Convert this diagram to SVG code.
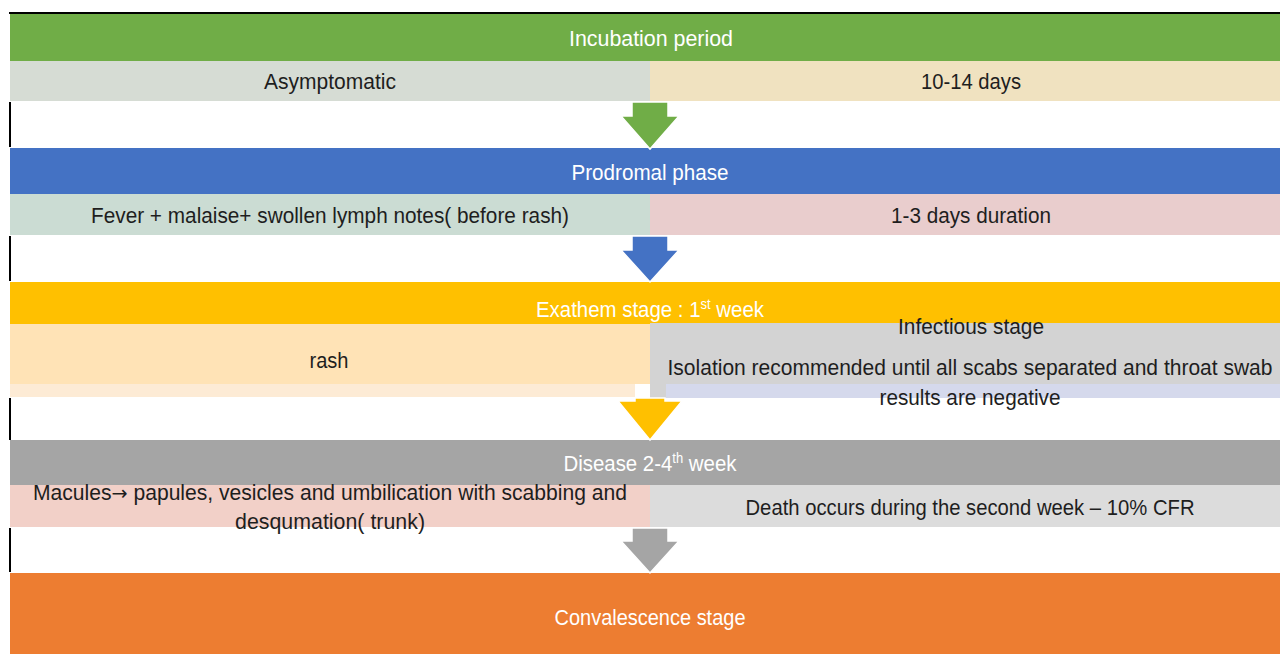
<svg xmlns="http://www.w3.org/2000/svg" width="1280" height="654" viewBox="0 0 1280 654">
<style>
  text { font-family: "Liberation Sans", Arial, sans-serif; font-size: 22px; text-anchor: middle; }
  .w { fill: #ffffff; }
  .d { fill: #1e1e1e; }
  .arrow { stroke: #ffffff; stroke-width: 1.5; }
  .edge { stroke: #000000; stroke-width: 2; }
</style>
<rect x="0" y="0" width="1280" height="654" fill="#ffffff"/>
<line class="edge" x1="9" y1="13" x2="1280" y2="13"/>
<g id="edges-left">
  <line class="edge" x1="10" y1="102" x2="10" y2="147"/>
  <line class="edge" x1="10" y1="236" x2="10" y2="281"/>
  <line class="edge" x1="10" y1="398" x2="10" y2="440"/>
  <line class="edge" x1="10" y1="528" x2="10" y2="572"/>
</g>

<g id="incubation">
  <rect x="10" y="14" width="1270" height="47" fill="#70AD47"/>
  <text class="w" x="651" y="46" textLength="164" lengthAdjust="spacingAndGlyphs">Incubation period</text>
  <rect x="10" y="61" width="640" height="40" fill="#D6DCD4"/>
  <rect x="650" y="61" width="630" height="40" fill="#F0E2C0"/>
  <text class="d" x="330" y="89" textLength="132" lengthAdjust="spacingAndGlyphs">Asymptomatic</text>
  <text class="d" x="971" y="89" textLength="100" lengthAdjust="spacingAndGlyphs">10-14 days</text>
</g>

<g id="prodromal">
  <rect x="10" y="148" width="1270" height="46" fill="#4472C4"/>
  <text class="w" x="650" y="180" textLength="157" lengthAdjust="spacingAndGlyphs">Prodromal phase</text>
  <rect x="10" y="194" width="640" height="41" fill="#CBDCD3"/>
  <rect x="650" y="194" width="630" height="41" fill="#E9CDCD"/>
  <text class="d" x="330" y="223" textLength="478" lengthAdjust="spacingAndGlyphs">Fever + malaise+ swollen lymph notes( before rash)</text>
  <text class="d" x="971" y="223" textLength="160" lengthAdjust="spacingAndGlyphs">1-3 days duration</text>
</g>

<g id="exathem">
  <rect x="10" y="282" width="1270" height="42" fill="#FFC000"/>
  <rect x="10" y="324" width="640" height="60" fill="#FFE3B6"/>
  <rect x="10" y="384" width="625" height="13" fill="#FDEBD5"/>
  <rect x="650" y="323" width="630" height="75" fill="#D3D3D3"/>
  <rect x="666" y="384" width="614" height="14" fill="#D5D9EC"/>
  <text class="w" x="650" y="317" textLength="228" lengthAdjust="spacingAndGlyphs">Exathem stage : 1<tspan font-size="14" dy="-8">st</tspan><tspan dy="8"> week</tspan></text>
  <text class="d" x="971" y="334" textLength="146" lengthAdjust="spacingAndGlyphs">Infectious stage</text>
  <text class="d" x="329" y="368" textLength="39" lengthAdjust="spacingAndGlyphs">rash</text>
  <text class="d" x="970" y="375" textLength="605" lengthAdjust="spacingAndGlyphs">Isolation recommended until all scabs separated and throat swab</text>
  <text class="d" x="970" y="405" textLength="181" lengthAdjust="spacingAndGlyphs">results are negative</text>
</g>

<g id="disease">
  <rect x="10" y="440" width="1270" height="45" fill="#A5A5A5"/>
  <rect x="10" y="485" width="640" height="42" fill="#F2D0C8"/>
  <rect x="650" y="485" width="630" height="42" fill="#DCDCDC"/>
  <text class="w" x="650" y="471" textLength="173" lengthAdjust="spacingAndGlyphs">Disease 2-4<tspan font-size="14" dy="-8">th</tspan><tspan dy="8"> week</tspan></text>
  <text class="d" x="330" y="500" textLength="594" lengthAdjust="spacingAndGlyphs">Macules<tspan font-family="DejaVu Sans" font-size="20">→</tspan> papules, vesicles and umbilication with scabbing and</text>
  <text class="d" x="330" y="529" textLength="190" lengthAdjust="spacingAndGlyphs">desqumation( trunk)</text>
  <text class="d" x="970" y="515" textLength="449" lengthAdjust="spacingAndGlyphs">Death occurs during the second week – 10% CFR</text>
</g>

<g id="convalescence">
  <rect x="10" y="573" width="1270" height="81" fill="#ED7D31"/>
  <text class="w" x="650" y="625" textLength="191" lengthAdjust="spacingAndGlyphs">Convalescence stage</text>
</g>

<g id="connectors">
  <polygon class="arrow" fill="#70AD47" points="632,102 668,102 668,116 679,116 650,149 621,116 632,116"/>
  <polygon class="arrow" fill="#4472C4" points="632,236 668,236 668,250 679,250 650,282 621,250 632,250"/>
  <polygon class="arrow" fill="#FFC000" points="635,398 665,398 665,401 682,401 650,440 618,401 635,401"/>
  <polygon class="arrow" fill="#A5A5A5" points="632,528 668,528 668,541 679,541 650,573 621,541 632,541"/>
</g>
</svg>
